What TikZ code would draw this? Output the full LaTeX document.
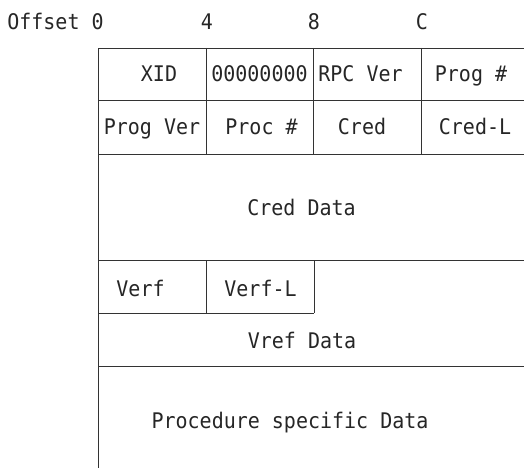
\documentclass[tikz,border=0pt]{standalone}
\usepackage{fontspec}
\newfontfamily\monofnt[FakeStretch=0.93]{DejaVu Sans Mono}
\begin{document}
\begin{tikzpicture}[x=1pt,y=-1pt,
  lbl/.style={anchor=base,inner sep=0pt,font=\monofnt\fontsize{21.5}{24}\selectfont,text=black!85},
  gridline/.style={draw=black!80,line width=0.9pt}]
\useasboundingbox[fill=white] (0,0) rectangle (524,468);
% grid
\draw[gridline] (524,48) -- (98,48) -- (98,468);
\draw[gridline] (98,100) -- (524,100);
\draw[gridline] (98,154) -- (524,154);
\draw[gridline] (98,260) -- (524,260);
\draw[gridline] (98,313) -- (314,313);
\draw[gridline] (98,366) -- (524,366);
\draw[gridline] (206,48) -- (206,154);
\draw[gridline] (313,48) -- (313,154);
\draw[gridline] (421,48) -- (421,154);
\draw[gridline] (206,260) -- (206,313);
\draw[gridline] (314,260) -- (314,313);
% header
\node[lbl] (off) at (55.5,29.5) {Offset 0};
\node[lbl] (h4) at (207,29.5) {4};
\node[lbl] (h8) at (314,29.5) {8};
\node[lbl] (hc) at (422,29.5) {C};
% row 1
\node[lbl] (xid) at (159,81.7) {XID};
\node[lbl] (zero) at (259.5,81.7) {00000000};
\node[lbl] (rpc) at (360.5,81.7) {RPC Ver};
\node[lbl] (prog) at (471,81.7) {Prog \#};
% row 2
\node[lbl] (pver) at (152,135) {Prog Ver};
\node[lbl] (proc) at (261.5,135) {Proc \#};
\node[lbl] (cred) at (362,135) {Cred};
\node[lbl] (credl) at (475,135) {Cred-L};
% data
\node[lbl] (cdata) at (301.5,215) {Cred Data};
\node[lbl] (verf) at (140.5,296) {Verf};
\node[lbl] (verfl) at (260.5,296) {Verf-L};
\node[lbl] (vdata) at (302,348.7) {Vref Data};
\node[lbl] (pdata) at (290,428.3) {Procedure specific Data};
\end{tikzpicture}
\end{document}
